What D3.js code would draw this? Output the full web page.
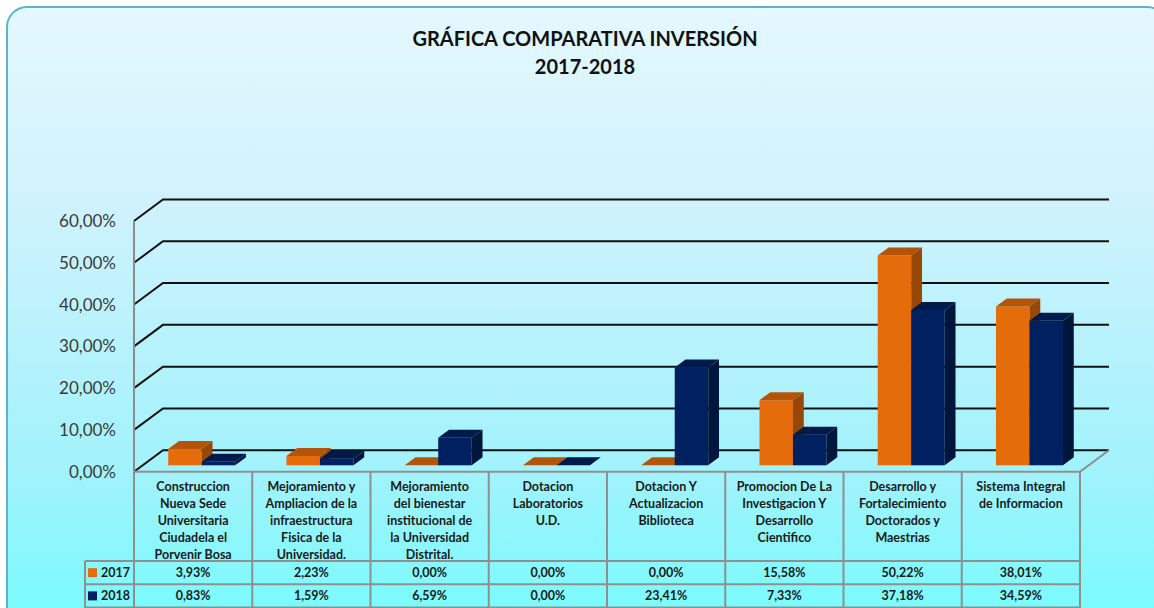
<!DOCTYPE html>
<html>
<head>
<meta charset="utf-8">
<script src="https://cdn.jsdelivr.net/npm/d3@7"></script>
<style>
  body { margin: 0; background: #fff; }
  svg { display: block; font-family: Lato, "Open Sans", sans-serif; }
</style>
</head>
<body>
<div id="chart"></div>
<script>
// category labels, wrapped as in the original table
const categories = [
    ["Construccion", "Nueva Sede", "Universitaria", "Ciudadela el", "Porvenir Bosa"],
    ["Mejoramiento y", "Ampliacion de la", "infraestructura", "Fisica de la", "Universidad."],
    ["Mejoramiento", "del bienestar", "institucional  de", "la Universidad", "Distrital."],
    ["Dotacion", "Laboratorios", "U.D."],
    ["Dotacion Y", "Actualizacion", "Biblioteca"],
    ["Promocion De La", "Investigacion Y", "Desarrollo", "Cientifico"],
    ["Desarrollo y", "Fortalecimiento", "Doctorados y", "Maestrias"],
    ["Sistema Integral", "de Informacion"]
];
const seriesNames = ["2017", "2018"];
const values2017 = [3.93, 2.23, 0.00, 0.00, 0.00, 15.58, 50.22, 38.01];
const values2018 = [0.83, 1.59, 6.59, 0.00, 23.41, 7.33, 37.18, 34.59];
const yTicks = [0, 10, 20, 30, 40, 50, 60];

const width = 1154;
const height = 608;

const colors = {
    "2017": { front: "#e46c0a", top: "#b45408", side: "#974806" },
    "2018": { front: "#002060", top: "#001a4c", side: "#00163d" }
};

const fmt = v => v.toFixed(2).replace(".", ",") + "%";

const left = 134, right = 1080;
const floorY = 471.7;
const depthX = 29, depthY = -21.5;     // back wall offset
const barX = 8.6, barY = -6.4;          // bar front plane offset
const barDX = 10.8, barDY = -8;         // bar depth

const svg = d3.select("#chart")
    .append("svg")
    .attr("width", width)
    .attr("height", height);

// background
const grad = svg.append("defs").append("linearGradient")
    .attr("id", "bg")
    .attr("x1", 0).attr("y1", 0).attr("x2", 0).attr("y2", 1);
[[0, "#e4f8fe"], [0.3, "#d0f2fd"], [0.72, "#a2f2fc"], [1, "#70fdfe"]].forEach(([o, c]) => {
    grad.append("stop").attr("offset", o).attr("stop-color", c);
});

svg.append("rect")
    .attr("x", 7)
    .attr("y", 7)
    .attr("width", 1160)
    .attr("height", 640)
    .attr("rx", 20)
    .attr("fill", "url(#bg)")
    .attr("stroke", "#5fb2cc")
    .attr("stroke-width", 2);

// Title
const title = svg.append("text")
    .attr("text-anchor", "middle")
    .style("font-weight", "bold")
    .style("font-size", "20px")
    .style("fill", "#111");
title.append("tspan").attr("x", 585).attr("y", 46).text("GRÁFICA COMPARATIVA INVERSIÓN");
title.append("tspan").attr("x", 585).attr("y", 74).text("2017-2018");

// scales
const y = d3.scaleLinear().domain([0, 60]).range([floorY, 221]);

const x = d3.scaleBand()
    .domain(d3.range(categories.length))
    .range([left, right]);

const xs = d3.scaleBand()
    .domain(seriesNames)
    .range([0, x.bandwidth()])
    .paddingInner(0)
    .paddingOuter(0.765);

// gridlines on the back wall
svg.append("g")
    .selectAll("path")
    .data(yTicks)
    .join("path")
    .attr("d", t => `M${left},${y(t)}L${left + depthX},${y(t) + depthY}L${right + depthX},${y(t) + depthY}`)
    .attr("fill", "none")
    .attr("stroke", "#111")
    .attr("stroke-width", 2);

// vertical axis + floor side
svg.append("line")
    .attr("x1", left).attr("x2", left)
    .attr("y1", y(60)).attr("y2", floorY)
    .attr("stroke", "#8c8c8c").attr("stroke-width", 2);

svg.append("line")
    .attr("x1", right).attr("y1", floorY)
    .attr("x2", right + depthX).attr("y2", floorY + depthY)
    .attr("stroke", "#8c8c8c").attr("stroke-width", 2);

// y axis labels
const yAxis = svg.append("g")
    .attr("transform", `translate(${left},0)`)
    .call(d3.axisLeft(y).tickValues(yTicks).tickFormat(fmt).tickSize(0).tickPadding(18));
yAxis.select(".domain").remove();
yAxis.selectAll("text")
    .style("font-family", "Lato, sans-serif")
    .style("font-size", "17px")
    .style("fill", "#3a3a3a");

// bars
const bars = [];
categories.forEach((c, i) => {
    bars.push({ i, s: "2017", v: values2017[i] });
    bars.push({ i, s: "2018", v: values2018[i] });
});

const barG = svg.append("g")
    .selectAll("g")
    .data(bars)
    .join("g");

const geo = d => {
    const x0 = x(d.i) + xs(d.s) + barX;
    const w = xs.bandwidth();
    const yTop = y(d.v) + barY;
    const yBot = y(0) + barY;
    return { x0, w, yTop, yBot };
};

barG.append("rect")
    .attr("x", d => geo(d).x0)
    .attr("y", d => geo(d).yTop)
    .attr("width", d => geo(d).w)
    .attr("height", d => geo(d).yBot - geo(d).yTop)
    .attr("fill", d => colors[d.s].front);

barG.append("path")
    .attr("d", d => {
        const g = geo(d);
        return `M${g.x0},${g.yTop}L${g.x0 + barDX},${g.yTop + barDY}L${g.x0 + g.w + barDX},${g.yTop + barDY}L${g.x0 + g.w},${g.yTop}Z`;
    })
    .attr("fill", d => colors[d.s].top);

barG.append("path")
    .attr("d", d => {
        const g = geo(d);
        return `M${g.x0 + g.w},${g.yTop}L${g.x0 + g.w + barDX},${g.yTop + barDY}L${g.x0 + g.w + barDX},${g.yBot + barDY}L${g.x0 + g.w},${g.yBot}Z`;
    })
    .attr("fill", d => colors[d.s].side);

// data table
const row1 = 561, row2 = 584.3, row3 = 607.5;
const legendLeft = 85;
const tableG = svg.append("g")
    .attr("stroke", "#8f8f8f")
    .attr("stroke-width", 2);

tableG.append("line")
    .attr("x1", left).attr("x2", right)
    .attr("y1", floorY).attr("y2", floorY);

[row1, row2, row3].forEach(yy => {
    tableG.append("line")
        .attr("x1", legendLeft).attr("x2", right)
        .attr("y1", yy).attr("y2", yy);
});

tableG.selectAll(".col")
    .data(d3.range(categories.length + 1))
    .join("line")
    .attr("class", "col")
    .attr("x1", i => left + i * x.step())
    .attr("x2", i => left + i * x.step())
    .attr("y1", floorY)
    .attr("y2", 612);

tableG.append("line")
    .attr("x1", legendLeft).attr("x2", legendLeft)
    .attr("y1", row1).attr("y2", 612);

// category headers
const header = svg.append("g")
    .selectAll("text")
    .data(categories)
    .join("text")
    .attr("text-anchor", "middle")
    .style("font-weight", "bold")
    .style("font-size", "12.5px")
    .style("fill", "#1a1a1a");

header.selectAll("tspan")
    .data((d, i) => d.map((line, k) => ({ line, k, i })))
    .join("tspan")
    .attr("x", d => x(d.i) + x.bandwidth() / 2)
    .attr("y", d => 490.5 + d.k * 17)
    .text(d => d.line);

// value rows
const rows = [
    { s: "2017", vals: values2017, cy: (row1 + row2) / 2 },
    { s: "2018", vals: values2018, cy: (row2 + row3) / 2 }
];

rows.forEach(r => {
    svg.append("rect")
        .attr("x", 88)
        .attr("y", r.cy - 4.5)
        .attr("width", 9)
        .attr("height", 9)
        .attr("fill", colors[r.s].front);

    svg.append("text")
        .attr("x", 101)
        .attr("y", r.cy + 4.5)
        .style("font-weight", "bold")
        .style("font-size", "12.5px")
        .style("fill", "#1a1a1a")
        .text(r.s);

    svg.append("g")
        .selectAll("text")
        .data(r.vals)
        .join("text")
        .attr("x", (d, i) => x(i) + x.bandwidth() / 2)
        .attr("y", r.cy + 4.5)
        .attr("text-anchor", "middle")
        .style("font-weight", "bold")
        .style("font-size", "12.5px")
        .style("fill", "#1a1a1a")
        .text(d => fmt(d));
});
</script>
</body>
</html>
